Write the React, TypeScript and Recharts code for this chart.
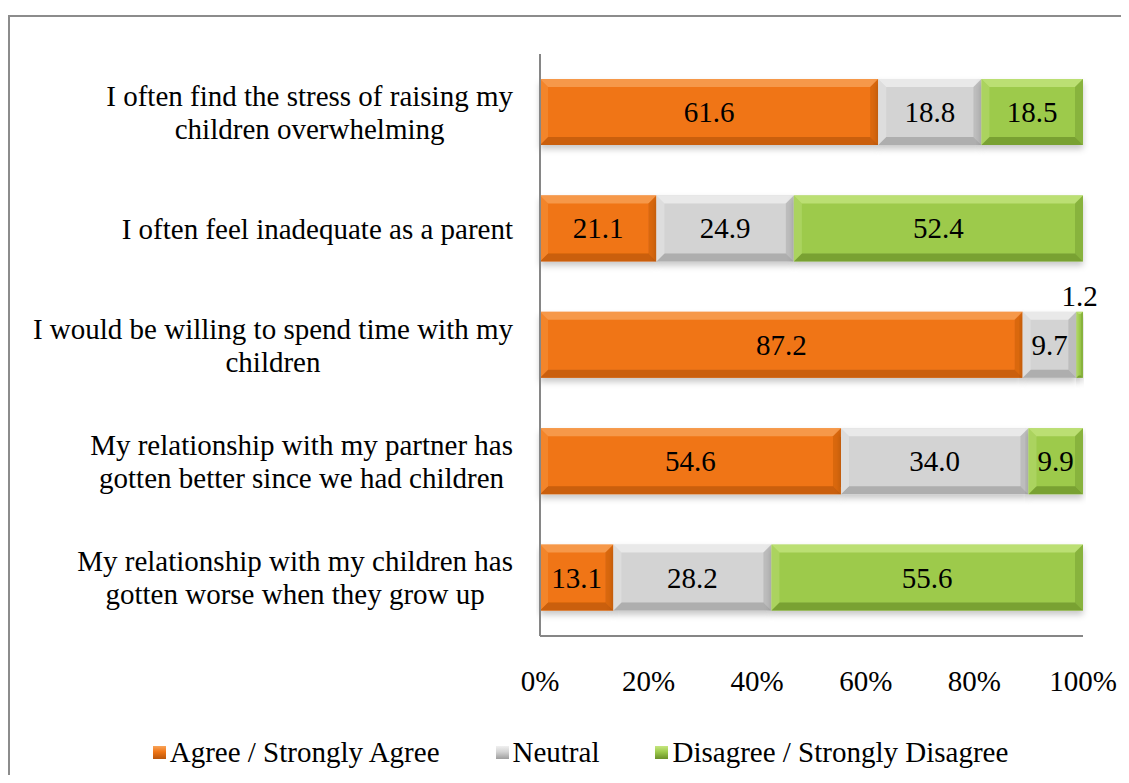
import { Bar, BarChart, LabelList, Legend, XAxis, YAxis } from 'recharts'

const questionLines = [
  ['I often find the stress of raising my', 'children overwhelming'],
  ['I often feel inadequate as a parent'],
  ['I would be willing to spend time with my', 'children'],
  ['My relationship with my partner has', 'gotten better since we had children'],
  ['My relationship with my children has', 'gotten worse when they grow up'],
]
const agree = [61.6, 21.1, 87.2, 54.6, 13.1]
const neutral = [18.8, 24.9, 9.7, 34.0, 28.2]
const disagree = [18.5, 52.4, 1.2, 9.9, 55.6]
const xTicks = [0, 0.2, 0.4, 0.6, 0.8, 1]

const seriesNames = ['Agree / Strongly Agree', 'Neutral', 'Disagree / Strongly Disagree']

const data = questionLines.map((lines, i) => ({
  question: lines.join(' '),
  agree: agree[i],
  neutral: neutral[i],
  disagree: disagree[i],
}))

const FONT = '"Liberation Serif", "Times New Roman", serif'
const FS = 29

const colors = {
  agree: { light: '#f8a45a', base: '#f07515', dark: '#b9560c' },
  neutral: { light: '#f0f0f0', base: '#d3d3d3', dark: '#9e9e9e' },
  disagree: { light: '#c6e680', base: '#9dca4c', dark: '#6a9029' },
}

let ctx: CanvasRenderingContext2D | null = null
const measure = (s: string) => {
  if (!ctx) {
    ctx = document.createElement('canvas').getContext('2d')
    if (ctx) ctx.font = `${FS}px ${FONT}`
  }
  return ctx ? ctx.measureText(s).width : s.length * 12
}

const QuestionTick = (props: any) => {
  const { x, y, index } = props
  const lines = questionLines[index] ?? [String(props.payload?.value)]
  const w = Math.max(...lines.map(measure))
  const cx = x - w / 2
  const lh = 33
  const start = y - ((lines.length - 1) * lh) / 2
  return (
    <text x={cx} y={start} textAnchor="middle" fontFamily={FONT} fontSize={FS} fill="#000">
      {lines.map((l, i) => (
        <tspan key={i} x={cx} y={start + i * lh} dominantBaseline="central">
          {l}
        </tspan>
      ))}
    </text>
  )
}

const BevelBar = (key: 'agree' | 'neutral' | 'disagree') => (props: any) => {
  const { x, y, width, height } = props
  if (!width || width <= 0) return null
  const c = colors[key]
  const b = Math.min(8, width / 3)
  return (
    <g filter="url(#barShadow)">
      <rect x={x} y={y} width={width} height={height} fill={c.base} />
      <polygon points={`${x},${y} ${x + width},${y} ${x + width - b},${y + b} ${x + b},${y + b}`} fill={c.light} opacity={0.75} />
      <polygon points={`${x},${y + height} ${x + width},${y + height} ${x + width - b},${y + height - b} ${x + b},${y + height - b}`} fill={c.dark} opacity={0.7} />
      <polygon points={`${x},${y} ${x + b},${y + b} ${x + b},${y + height - b} ${x},${y + height}`} fill={c.light} opacity={0.35} />
      <polygon points={`${x + width},${y} ${x + width - b},${y + b} ${x + width - b},${y + height - b} ${x + width},${y + height}`} fill={c.dark} opacity={0.4} />
    </g>
  )
}

const segmentLabel = (values: number[]) => (props: any) => {
  const { x, y, width, height, index } = props
  const v = values[index]
  if (v == null) return null
  const small = width < 24
  return (
    <text
      x={x + width / 2}
      y={small ? y - 16 : y + height / 2}
      textAnchor="middle"
      dominantBaseline="central"
      fontFamily={FONT}
      fontSize={FS}
      fill="#000"
    >
      {v.toFixed(1)}
    </text>
  )
}

const LegendContent = () => (
  <div style={{ display: 'flex', justifyContent: 'center', alignItems: 'center', height: 40, fontFamily: FONT, fontSize: FS, color: '#000', paddingLeft: 70 }}>
    {(['agree', 'neutral', 'disagree'] as const).map((k, i) => (
      <div key={k} style={{ display: 'flex', alignItems: 'center', marginRight: i < 2 ? 56 : 0 }}>
        <span
          style={{
            display: 'inline-block',
            width: 13,
            height: 13,
            marginRight: 4,
            background: `linear-gradient(${colors[k].light}, ${colors[k].base} 45%, ${colors[k].dark})`,
          }}
        />
        <span>{seriesNames[i]}</span>
      </div>
    ))}
  </div>
)

export default function App() {
  return (
    <div style={{ position: 'relative', width: 1113, height: 767, overflow: 'hidden', background: '#fff' }}>
      <div
        style={{
          position: 'absolute',
          left: 0,
          top: 7,
          width: 1200,
          height: 900,
          border: '2px solid #8c8c8c',
          boxSizing: 'border-box',
        }}
      />
      <div style={{ position: 'absolute', left: 0, top: 0 }}>
        <BarChart
          width={1113}
          height={767}
          data={data}
          layout="vertical"
          stackOffset="expand"
          barSize={66}
          margin={{ top: 46, right: 38, bottom: 3, left: 0 }}
        >
          <defs>
            <filter id="barShadow" x="-5%" y="-20%" width="110%" height="150%">
              <feDropShadow dx="0" dy="4" stdDeviation="3" floodColor="#000" floodOpacity="0.22" />
            </filter>
          </defs>
          <XAxis
            type="number"
            domain={[0, 1]}
            ticks={xTicks}
            tickFormatter={(v: number) => `${Math.round(v * 100)}%`}
            tickLine={false}
            axisLine={{ stroke: '#868686', strokeWidth: 2 }}
            tickMargin={28}
            height={96}
            tick={{ fontFamily: FONT, fontSize: FS, fill: '#000' }}
          />
          <YAxis
            type="category"
            dataKey="question"
            width={532}
            tickLine={false}
            axisLine={{ stroke: '#868686', strokeWidth: 2 }}
            tickMargin={21}
            tick={QuestionTick}
            interval={0}
          />
          <Legend verticalAlign="bottom" content={LegendContent} />
          <Bar dataKey="agree" name={seriesNames[0]} stackId="s" isAnimationActive={false} shape={BevelBar('agree')}>
            <LabelList content={segmentLabel(agree)} />
          </Bar>
          <Bar dataKey="neutral" name={seriesNames[1]} stackId="s" isAnimationActive={false} shape={BevelBar('neutral')}>
            <LabelList content={segmentLabel(neutral)} />
          </Bar>
          <Bar dataKey="disagree" name={seriesNames[2]} stackId="s" isAnimationActive={false} shape={BevelBar('disagree')}>
            <LabelList content={segmentLabel(disagree)} />
          </Bar>
        </BarChart>
      </div>
    </div>
  )
}
